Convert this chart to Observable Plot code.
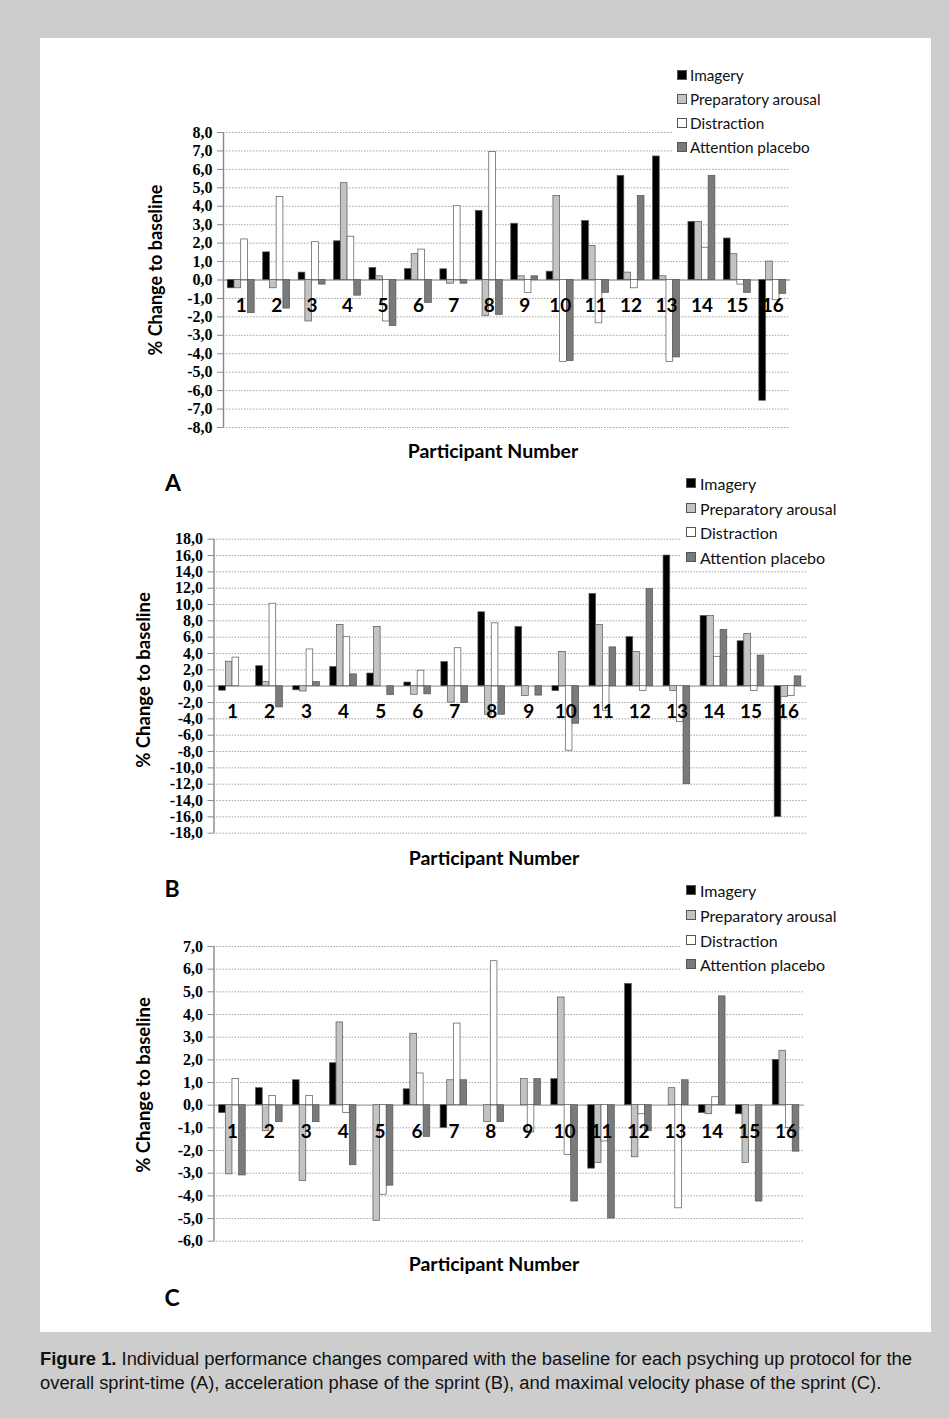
<!DOCTYPE html>
<html>
<head>
<meta charset="utf-8">
<script src="https://cdn.jsdelivr.net/npm/d3@7"></script>
<script src="https://cdn.jsdelivr.net/npm/@observablehq/plot@0.6"></script>
<style>
  html, body { margin: 0; padding: 0; background: #cdcdcd; }
  #page { position: relative; width: 949px; height: 1418px; overflow: hidden; }
  .abs { position: absolute; white-space: nowrap; }
  .panelsvg { position: absolute; left: 0; }
  .ttl { font-family: Lato, "Open Sans", sans-serif; font-weight: bold; color: #000; }
  .leg { position: absolute; background: #fff; }
  .legtxt { font-family: Lato, "Open Sans", sans-serif; color: #111; }
  .sw { position: absolute; width: 8px; height: 8px; border: 1px solid #555; }
</style>
</head>
<body>
<div id="page">
  <div class="abs" style="left:40px;top:38px;width:891px;height:1294px;background:#fff;"></div>
</div>
<script>
// ---------- data ----------
const participants = [1, 2, 3, 4, 5, 6, 7, 8, 9, 10, 11, 12, 13, 14, 15, 16];
const series = ["Imagery", "Preparatory arousal", "Distraction", "Attention placebo"];
const seriesColors = ["#000000", "#c3c3c3", "#ffffff", "#7a7a7a"];

// Panel A: overall sprint-time
const imageryA     = [-0.45, 1.5, 0.4, 2.1, 0.65, 0.6, 0.58, 3.75, 3.05, 0.45, 3.2, 5.65, 6.7, 3.15, 2.25, -6.55];
const arousalA     = [-0.45, -0.45, -2.25, 5.25, 0.2, 1.4, -0.2, -1.95, 0.2, 4.55, 1.85, 0.4, 0.2, 3.15, 1.4, 1.0];
const distractionA = [2.2, 4.5, 2.05, 2.35, -2.25, 1.65, 4.0, 6.95, -0.7, -4.45, -2.35, -0.45, -4.45, 1.75, -0.25, -1.1];
const placeboA     = [-1.8, -1.55, -0.25, -0.85, -2.5, -1.25, -0.2, -1.9, 0.2, -4.4, -0.7, 4.55, -4.2, 5.65, -0.7, -0.75];
const ticksA = [-8, -7, -6, -5, -4, -3, -2, -1, 0, 1, 2, 3, 4, 5, 6, 7, 8];

// Panel B: acceleration phase
const imageryB     = [-0.55, 2.45, -0.5, 2.35, 1.55, 0.45, 2.95, 9.05, 7.25, -0.6, 11.3, 6.0, 16.0, 8.6, 5.5, -16.0];
const arousalB     = [3.0, 0.5, -0.65, 7.5, 7.25, -1.05, -2.0, -3.5, -1.2, 4.2, 7.5, 4.2, -0.6, 8.6, 6.4, -1.3];
const distractionB = [3.5, 10.1, 4.5, 6.0, 0, 1.9, 4.65, 7.7, 0, -7.9, -3.0, -0.6, -4.4, 3.6, -0.6, -1.2];
const placeboB     = [0, -2.6, 0.5, 1.45, -1.1, -1.0, -2.05, -3.5, -1.15, -4.6, 4.75, 11.9, -12.0, 6.9, 3.75, 1.2];
const ticksB = [-18, -16, -14, -12, -10, -8, -6, -4, -2, 0, 2, 4, 6, 8, 10, 12, 14, 16, 18];

// Panel C: maximal velocity phase
const imageryC     = [-0.35, 0.75, 1.1, 1.85, 0, 0.7, -1.0, 0, 0, 1.15, -2.8, 5.35, 0, -0.35, -0.4, 2.0];
const arousalC     = [-3.05, -1.15, -3.35, 3.65, -5.1, 3.15, 1.1, -0.75, 1.15, 4.75, -2.55, -2.3, 0.75, -0.4, -2.55, 2.4];
const distractionC = [1.15, 0.4, 0.4, -0.35, -3.95, 1.4, 3.6, 6.35, -1.2, -2.2, -1.6, -0.4, -4.55, 0.35, 0, -1.0];
const placeboC     = [-3.1, -0.75, -0.75, -2.65, -3.55, -1.4, 1.1, -0.75, 1.15, -4.25, -5.0, -1.15, 1.1, 4.8, -4.25, -2.05];
const ticksC = [-6, -5, -4, -3, -2, -1, 0, 1, 2, 3, 4, 5, 6, 7];

const yTitle = "% Change to baseline";
const xTitle = "Participant Number";
const captionBold = "Figure 1.";
const captionLine1 = " Individual performance changes compared with the baseline for each psyching up protocol for the";
const captionLine2 = "overall sprint-time (A), acceleration phase of the sprint (B), and maximal velocity phase of the sprint (C).";

// ---------- drawing ----------
const page = document.getElementById("page");

function fmt(d) { return d.toFixed(1).replace(".", ","); }

function makePanel(cfg) {
  const values = cfg.values;
  const rows = [];
  series.forEach((s, i) => values[i].forEach((v, j) => {
    if (v !== 0) rows.push({participant: participants[j], series: s, index: i, value: v});
  }));
  const bw = cfg.barW;
  const chart = Plot.plot({
    width: 949,
    height: cfg.height,
    marginTop: cfg.marginTop,
    marginBottom: cfg.marginBottom,
    marginLeft: cfg.marginLeft,
    marginRight: cfg.marginRight,
    x: {domain: [0.5, 16.5], axis: null},
    y: {domain: [cfg.ticks[0], cfg.ticks[cfg.ticks.length - 1]], axis: null},
    color: {domain: series, range: seriesColors},
    style: {background: "transparent", overflow: "visible"},
    marks: [
      Plot.gridY(cfg.ticks.filter(t => t !== 0), {stroke: "#8c8c8c", strokeOpacity: 1, strokeWidth: 0.8, strokeDasharray: "1.5,1.5"}),
      Plot.ruleY([0], {stroke: "#a0a0a0", strokeWidth: 1.3}),
      Plot.rectY(rows, {
        x1: d => d.participant - 2 * bw + d.index * bw,
        x2: d => d.participant - 2 * bw + (d.index + 1) * bw,
        y1: () => 0,
        y2: "value",
        fill: "series",
        stroke: "#555",
        strokeWidth: 0.7
      }),
      Plot.ruleX([0.5], {stroke: "#8a8a8a", strokeWidth: 1.4}),
      Plot.axisY(cfg.ticks, {
        tickFormat: fmt, tickSize: 6, tickPadding: 5, stroke: "#8a8a8a", fill: "#000",
        fontFamily: "Liberation Serif", fontWeight: "bold", fontSize: 16, label: null
      }),
      Plot.text(participants, {
        x: d => d, y: () => 0, dy: cfg.labelDy, text: d => String(d),
        fontFamily: "Lato", fontWeight: "bold", fontSize: 19, fill: "#000"
      })
    ]
  });
  chart.classList.add("panelsvg");
  chart.style.top = cfg.top + "px";
  page.appendChild(chart);
}

function addText(txt, x, y, css, rotate) {
  const el = document.createElement("div");
  el.className = "abs ttl";
  el.textContent = txt;
  el.style.left = x + "px";
  el.style.top = y + "px";
  el.style.transform = "translate(-50%,-50%)" + (rotate ? " rotate(-90deg)" : "");
  Object.assign(el.style, css || {});
  page.appendChild(el);
}

function addLegend(box, sqX, txtX, ys, fontSize) {
  const bg = document.createElement("div");
  bg.className = "leg";
  Object.assign(bg.style, {left: box[0] + "px", top: box[1] + "px", width: box[2] + "px", height: box[3] + "px"});
  page.appendChild(bg);
  series.forEach((s, i) => {
    const sw = document.createElement("div");
    sw.className = "sw";
    sw.style.left = sqX + "px";
    sw.style.top = (ys[i] - 5) + "px";
    sw.style.background = seriesColors[i];
    page.appendChild(sw);
    const t = document.createElement("div");
    t.className = "abs legtxt";
    t.textContent = s;
    t.style.left = txtX + "px";
    t.style.top = ys[i] + "px";
    t.style.fontSize = fontSize + "px";
    t.style.transform = "translateY(-50%)";
    page.appendChild(t);
  });
}

// Panel A
makePanel({values: [imageryA, arousalA, distractionA, placeboA], ticks: ticksA, top: 40, height: 460,
  marginTop: 92, marginBottom: 73, marginLeft: 223, marginRight: 159, barW: 0.19, labelDy: 26});
// Panel B
makePanel({values: [imageryB, arousalB, distractionB, placeboB], ticks: ticksB, top: 500, height: 370,
  marginTop: 38.7, marginBottom: 37.3, marginLeft: 213.5, marginRight: 143, barW: 0.18, labelDy: 26});
// Panel C
makePanel({values: [imageryC, arousalC, distractionC, placeboC], ticks: ticksC, top: 880, height: 400,
  marginTop: 66, marginBottom: 39.3, marginLeft: 213.5, marginRight: 145, barW: 0.18, labelDy: 27});

// Titles
addText(yTitle, 155, 270, {fontSize: "18px"}, true);
addText(yTitle, 143, 680, {fontSize: "18.5px"}, true);
addText(yTitle, 143, 1085, {fontSize: "18.5px"}, true);
addText(xTitle, 493, 450, {fontSize: "19.5px"});
addText(xTitle, 494, 857, {fontSize: "19.5px"});
addText(xTitle, 494, 1263, {fontSize: "19.5px"});
addText("A", 173, 482, {fontSize: "23px"});
addText("B", 172, 888, {fontSize: "23px"});
addText("C", 172, 1297, {fontSize: "23px"});

// Legends
addLegend([672, 62, 165, 96], 677, 690, [75, 99, 123, 147], 15.3);
addLegend([680, 470, 170, 98], 686, 700, [483, 508, 532, 557], 16);
addLegend([680, 877, 170, 98], 686, 700, [890, 915, 940, 964], 16);

// Caption
const cap = document.createElement("div");
cap.className = "abs";
Object.assign(cap.style, {left: "40px", top: "1347px", fontFamily: "'Liberation Sans', Arial, sans-serif",
  fontSize: "18px", lineHeight: "24px", color: "#111", transformOrigin: "0 0"});
const l1 = document.createElement("div");
const span = document.createElement("span");
const b = document.createElement("b");
b.textContent = captionBold;
span.appendChild(b);
span.appendChild(document.createTextNode(captionLine1));
l1.appendChild(span);
const l2 = document.createElement("div");
l2.textContent = captionLine2;
cap.appendChild(l1);
cap.appendChild(l2);
page.appendChild(cap);
const sw1 = span.getBoundingClientRect().width;
cap.style.transform = "scaleX(" + (872 / sw1) + ")";
</script>
</body>
</html>
